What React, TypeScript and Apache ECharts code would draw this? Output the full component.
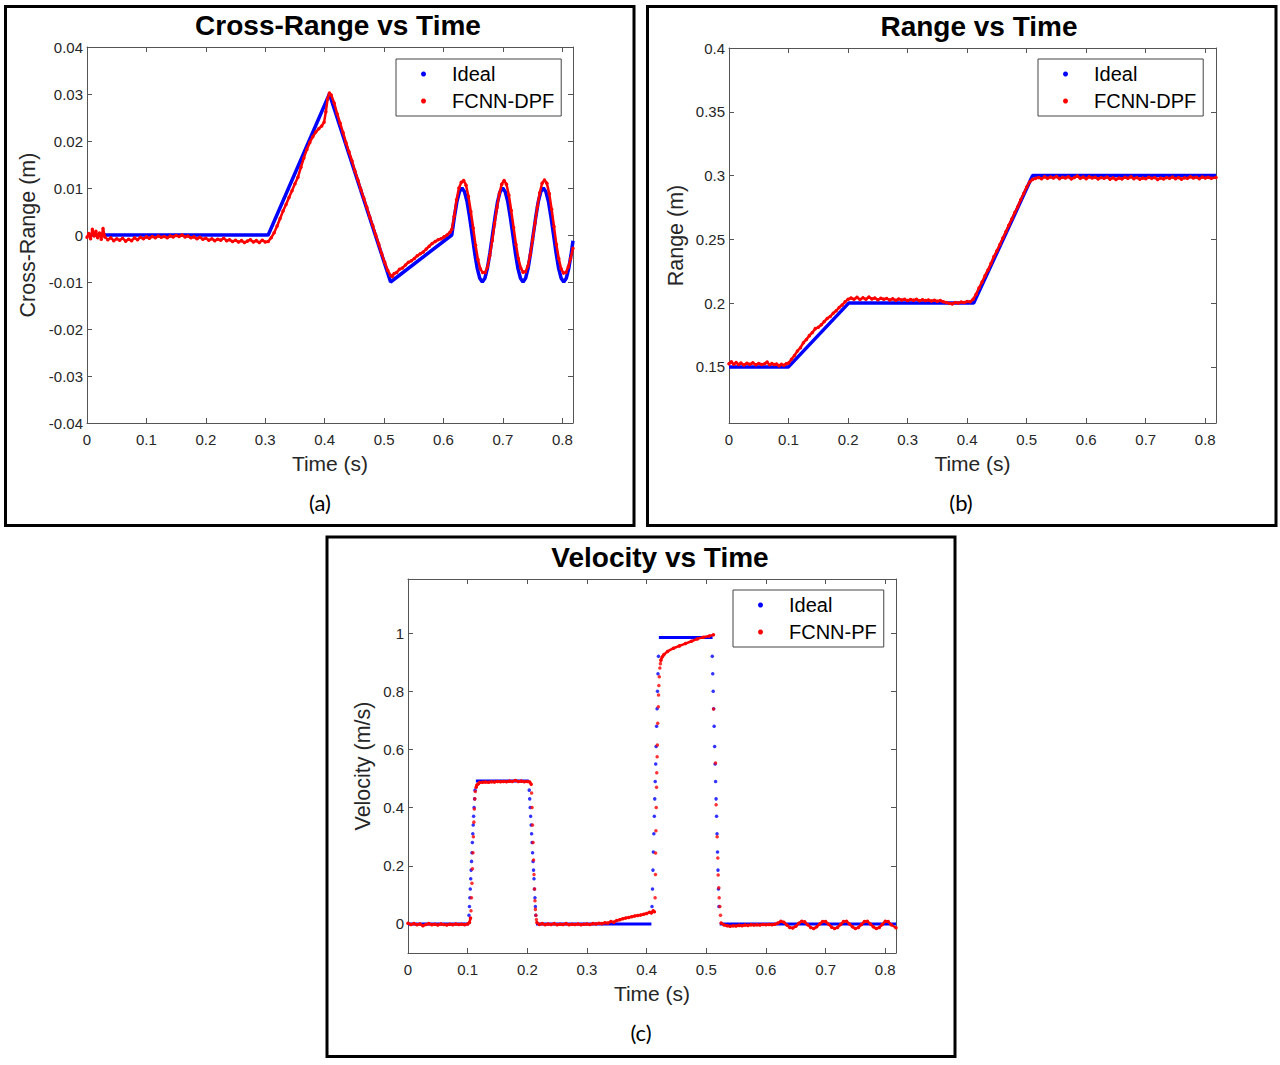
import React, { useEffect, useRef } from "react";
import * as echarts from "echarts";

type P = [number, number];

// ---------------- Panel (a): Cross-Range vs Time ----------------
const crossIdeal: P[] = [
  [0, 0], [0.305, 0], [0.408, 0.03], [0.511, -0.01], [0.614, 0],
  [0.6183, 0.0038], [0.6226, 0.0071], [0.6268, 0.0092], [0.6311, 0.01], [0.6354, 0.0092],
  [0.6397, 0.0071], [0.644, 0.0038], [0.6483, 0], [0.6525, -0.0038], [0.6568, -0.0071],
  [0.6611, -0.0092], [0.6654, -0.01], [0.6697, -0.0092], [0.6739, -0.0071], [0.6782, -0.0038],
  [0.6825, 0], [0.6868, 0.0038], [0.6911, 0.0071], [0.6953, 0.0092], [0.6996, 0.01],
  [0.7039, 0.0092], [0.7082, 0.0071], [0.7125, 0.0038], [0.7168, 0], [0.721, -0.0038],
  [0.7253, -0.0071], [0.7296, -0.0092], [0.7339, -0.01], [0.7382, -0.0092], [0.7424, -0.0071],
  [0.7467, -0.0038], [0.751, 0], [0.7553, 0.0038], [0.7596, 0.0071], [0.7638, 0.0092],
  [0.7681, 0.01], [0.7724, 0.0092], [0.7767, 0.0071], [0.781, 0.0038], [0.7853, 0],
  [0.7895, -0.0038], [0.7938, -0.0071], [0.7981, -0.0092], [0.8024, -0.01], [0.8067, -0.0092],
  [0.8109, -0.0071], [0.8152, -0.0038], [0.818, -0.0012],
];

const crossFcnn: P[] = [
  [0, -0.0005], [0.003, 0.0003], [0.006, -0.0008], [0.009, 0.0012], [0.012, -0.0002],
  [0.015, 0.0008], [0.018, -0.0006], [0.021, 0.0004], [0.024, -0.0009], [0.027, 0.0014],
  [0.03, -0.0004], [0.035, -0.001], [0.04, -0.0006], [0.045, -0.0012], [0.05, -0.0008],
  [0.055, -0.0011], [0.06, -0.0007], [0.065, -0.0013], [0.07, -0.0009], [0.075, -0.0012],
  [0.08, -0.0006], [0.085, -0.001], [0.09, -0.0005], [0.095, -0.0008], [0.1, -0.0004],
  [0.105, -0.0007], [0.11, -0.0003], [0.115, -0.0006], [0.12, -0.0002], [0.125, -0.0005],
  [0.13, -0.0003], [0.135, -0.0006], [0.14, -0.0002], [0.145, -0.0004], [0.15, -0.0001],
  [0.155, -0.0003], [0.16, 0.0], [0.165, -0.0004], [0.17, -0.0002], [0.175, -0.0006],
  [0.18, -0.0004], [0.185, -0.0008], [0.19, -0.0005], [0.195, -0.0009], [0.2, -0.0007],
  [0.205, -0.0011], [0.21, -0.0008], [0.215, -0.0012], [0.22, -0.0009], [0.225, -0.0011],
  [0.23, -0.0007], [0.235, -0.0012], [0.24, -0.001], [0.245, -0.0014], [0.25, -0.0011],
  [0.255, -0.0015], [0.26, -0.0012], [0.265, -0.0016], [0.27, -0.0013], [0.275, -0.001],
  [0.28, -0.0015], [0.285, -0.0012], [0.29, -0.0016], [0.295, -0.0011], [0.3, -0.0015],
  [0.305, -0.0014], [0.31, -0.0006], [0.315, 0.0005], [0.32, 0.0019], [0.325, 0.0035],
  [0.33, 0.0051], [0.335, 0.0065], [0.34, 0.008], [0.345, 0.0094], [0.35, 0.0109],
  [0.355, 0.0123], [0.36, 0.0144], [0.365, 0.0164], [0.37, 0.0182], [0.375, 0.0197],
  [0.38, 0.0209], [0.385, 0.0219], [0.39, 0.0226], [0.395, 0.0232], [0.399, 0.024],
  [0.402, 0.0262], [0.405, 0.029], [0.408, 0.0302], [0.411, 0.0298], [0.416, 0.0281],
  [0.421, 0.0258], [0.426, 0.0238], [0.431, 0.0218], [0.436, 0.0196], [0.441, 0.0177],
  [0.446, 0.0158], [0.451, 0.0136], [0.456, 0.0117], [0.461, 0.0097], [0.466, 0.0078],
  [0.471, 0.0059], [0.476, 0.0038], [0.481, 0.002], [0.486, 0.0], [0.491, -0.0019],
  [0.496, -0.004], [0.501, -0.0058], [0.506, -0.0075], [0.511, -0.0086], [0.514, -0.0088],
  [0.517, -0.0082], [0.521, -0.008], [0.526, -0.0073], [0.531, -0.007], [0.536, -0.0064],
  [0.541, -0.0058], [0.546, -0.0055], [0.551, -0.005], [0.556, -0.0044], [0.561, -0.004],
  [0.566, -0.0036], [0.571, -0.003], [0.576, -0.0024], [0.581, -0.0018], [0.586, -0.0014],
  [0.591, -0.001], [0.596, -0.0008], [0.601, -0.0004], [0.606, 0.0], [0.611, 0.0006],
  [0.614, 0.0012], [0.618, 0.004], [0.622, 0.0075], [0.626, 0.01], [0.63, 0.0112],
  [0.634, 0.0116], [0.638, 0.0106], [0.642, 0.0082], [0.646, 0.005], [0.65, 0.0015],
  [0.654, -0.0022], [0.658, -0.0052], [0.662, -0.0072], [0.666, -0.008], [0.67, -0.008],
  [0.674, -0.0068], [0.678, -0.0044], [0.682, -0.0012], [0.686, 0.0024], [0.69, 0.0058],
  [0.694, 0.0088], [0.698, 0.0108], [0.702, 0.0116], [0.706, 0.0108], [0.71, 0.0085],
  [0.714, 0.0052], [0.718, 0.0016], [0.722, -0.002], [0.726, -0.005], [0.73, -0.007],
  [0.734, -0.0079], [0.738, -0.0078], [0.742, -0.0066], [0.746, -0.0042], [0.75, -0.001],
  [0.754, 0.0025], [0.758, 0.006], [0.762, 0.009], [0.766, 0.011], [0.77, 0.0117],
  [0.774, 0.011], [0.778, 0.0088], [0.782, 0.0055], [0.786, 0.0018], [0.79, -0.002],
  [0.794, -0.005], [0.798, -0.0072], [0.802, -0.0081], [0.806, -0.008], [0.81, -0.0068],
  [0.814, -0.005], [0.818, -0.0028],
];

// ---------------- Panel (b): Range vs Time ----------------
const rangeIdeal: P[] = [
  [0, 0.15], [0.1, 0.15], [0.201, 0.2], [0.411, 0.2], [0.51, 0.3], [0.818, 0.3],
];

const rangeFcnn: P[] = [
  [0, 0.1525], [0.004, 0.154], [0.008, 0.152], [0.012, 0.1535], [0.016, 0.1518],
  [0.02, 0.153], [0.025, 0.1515], [0.03, 0.1528], [0.035, 0.152], [0.04, 0.1532],
  [0.045, 0.1517], [0.05, 0.1527], [0.055, 0.1519], [0.06, 0.1524], [0.064, 0.1538],
  [0.068, 0.1516], [0.072, 0.1526], [0.076, 0.1518], [0.08, 0.1522], [0.084, 0.1508],
  [0.088, 0.152], [0.092, 0.1512], [0.096, 0.1524], [0.1, 0.153], [0.105, 0.156],
  [0.11, 0.159], [0.115, 0.1625], [0.12, 0.165], [0.125, 0.169], [0.13, 0.1715],
  [0.135, 0.1745], [0.14, 0.177], [0.145, 0.18], [0.15, 0.181], [0.155, 0.183],
  [0.16, 0.1855], [0.165, 0.188], [0.17, 0.1895], [0.175, 0.192], [0.18, 0.194],
  [0.185, 0.1965], [0.19, 0.1985], [0.195, 0.201], [0.2, 0.203], [0.205, 0.204],
  [0.21, 0.203], [0.215, 0.2045], [0.22, 0.2028], [0.225, 0.2042], [0.23, 0.203],
  [0.235, 0.2048], [0.24, 0.2032], [0.245, 0.204], [0.25, 0.2026], [0.255, 0.2038],
  [0.26, 0.203], [0.265, 0.2036], [0.27, 0.2024], [0.275, 0.2034], [0.28, 0.2022],
  [0.285, 0.2032], [0.29, 0.2025], [0.295, 0.203], [0.3, 0.202], [0.305, 0.2028],
  [0.31, 0.2022], [0.315, 0.203], [0.32, 0.2018], [0.325, 0.2026], [0.33, 0.202],
  [0.335, 0.2024], [0.34, 0.2016], [0.345, 0.2022], [0.35, 0.2015], [0.355, 0.202],
  [0.36, 0.201], [0.365, 0.2005], [0.37, 0.1998], [0.375, 0.1994], [0.38, 0.2004],
  [0.385, 0.2], [0.39, 0.2008], [0.395, 0.2005], [0.4, 0.2012], [0.405, 0.201],
  [0.41, 0.203], [0.415, 0.207], [0.42, 0.212], [0.425, 0.2165], [0.43, 0.2215],
  [0.435, 0.226], [0.44, 0.231], [0.445, 0.2365], [0.45, 0.241], [0.455, 0.246],
  [0.46, 0.251], [0.465, 0.256], [0.47, 0.261], [0.475, 0.266], [0.48, 0.271],
  [0.485, 0.2755], [0.49, 0.281], [0.495, 0.286], [0.5, 0.291], [0.505, 0.295],
  [0.51, 0.297], [0.515, 0.2978], [0.52, 0.2985], [0.525, 0.2975], [0.53, 0.299],
  [0.535, 0.2978], [0.54, 0.2988], [0.545, 0.298], [0.55, 0.2992], [0.555, 0.2976],
  [0.56, 0.2986], [0.565, 0.298], [0.57, 0.299], [0.575, 0.2974], [0.58, 0.2984],
  [0.585, 0.2996], [0.59, 0.2978], [0.595, 0.2988], [0.6, 0.2976], [0.605, 0.299],
  [0.61, 0.298], [0.615, 0.2986], [0.62, 0.2974], [0.625, 0.2984], [0.63, 0.2978],
  [0.635, 0.2988], [0.64, 0.2972], [0.645, 0.2982], [0.65, 0.297], [0.655, 0.298],
  [0.66, 0.2974], [0.665, 0.2986], [0.67, 0.2978], [0.675, 0.299], [0.68, 0.2976],
  [0.685, 0.2984], [0.69, 0.2972], [0.695, 0.298], [0.7, 0.2976], [0.705, 0.2986],
  [0.71, 0.2978], [0.715, 0.2984], [0.72, 0.297], [0.725, 0.298], [0.73, 0.2974],
  [0.735, 0.2984], [0.74, 0.2978], [0.745, 0.2988], [0.75, 0.2976], [0.755, 0.2984],
  [0.76, 0.2972], [0.765, 0.2982], [0.77, 0.2978], [0.775, 0.299], [0.78, 0.298],
  [0.785, 0.2986], [0.79, 0.2976], [0.795, 0.2988], [0.8, 0.298], [0.805, 0.2986],
  [0.81, 0.2978], [0.818, 0.2984],
];

// ---------------- Panel (c): Velocity vs Time ----------------
const velIdealSegments: P[][] = [
  [[0, 0], [0.102, 0]],
  [[0.1138, 0.491], [0.2025, 0.491]],
  [[0.2145, 0], [0.408, 0]],
  [[0.4205, 0.985], [0.5105, 0.985]],
  [[0.5225, 0], [0.818, 0]],
];

const velIdealDots: P[] = [
  [0.1022, 0.03], [0.103, 0.06], [0.1037, 0.09], [0.1044, 0.12], [0.1051, 0.155],
  [0.1058, 0.185], [0.1065, 0.215], [0.1072, 0.245], [0.1079, 0.28], [0.1086, 0.31],
  [0.1093, 0.34], [0.11, 0.37], [0.1108, 0.4], [0.1116, 0.43], [0.1124, 0.46],
  [0.2032, 0.46], [0.204, 0.43], [0.2048, 0.4], [0.2056, 0.37], [0.2064, 0.34],
  [0.2072, 0.31], [0.208, 0.28], [0.2088, 0.245], [0.2096, 0.215], [0.2104, 0.185],
  [0.2112, 0.155], [0.212, 0.12], [0.2128, 0.09], [0.2135, 0.06], [0.2142, 0.03],
  [0.409, 0.06], [0.4098, 0.12], [0.4106, 0.185], [0.4113, 0.247], [0.4121, 0.31],
  [0.4129, 0.37], [0.4136, 0.43], [0.4144, 0.49], [0.4152, 0.55], [0.4159, 0.61],
  [0.4167, 0.68], [0.4175, 0.74], [0.4182, 0.8], [0.419, 0.86], [0.4198, 0.92],
  [0.51, 0.92], [0.5108, 0.86], [0.5116, 0.8], [0.5124, 0.74], [0.5132, 0.68],
  [0.514, 0.61], [0.5148, 0.55], [0.5156, 0.49], [0.5164, 0.43], [0.5172, 0.37],
  [0.518, 0.31], [0.5188, 0.247], [0.5196, 0.185], [0.5204, 0.12], [0.5212, 0.06],
];

const velFcnnSegments: P[][] = [
  [
    [0, 0.002], [0.005, -0.002], [0.01, 0.001], [0.015, -0.003], [0.02, 0.0],
    [0.025, -0.006], [0.03, -0.002], [0.035, 0.001], [0.04, -0.003], [0.045, -0.001],
    [0.05, -0.004], [0.055, 0.0], [0.06, -0.002], [0.065, -0.004], [0.07, -0.001],
    [0.075, -0.003], [0.08, 0.0], [0.085, -0.002], [0.09, -0.001], [0.095, -0.003],
    [0.1, 0.0], [0.103, 0.005], [0.1048, 0.02],
  ],
  [
    [0.1142, 0.47], [0.1155, 0.478], [0.118, 0.482], [0.12, 0.486], [0.125, 0.487],
    [0.13, 0.488], [0.135, 0.487], [0.14, 0.489], [0.145, 0.488], [0.15, 0.49],
    [0.155, 0.489], [0.16, 0.49], [0.165, 0.489], [0.17, 0.491], [0.175, 0.49],
    [0.18, 0.493], [0.185, 0.49], [0.19, 0.491], [0.195, 0.489], [0.2, 0.49],
    [0.204, 0.488], [0.2065, 0.48],
  ],
  [
    [0.216, 0.005], [0.22, -0.002], [0.225, 0.001], [0.23, -0.003], [0.235, 0.0],
    [0.24, -0.002], [0.245, 0.001], [0.25, -0.003], [0.255, -0.001], [0.26, -0.002],
    [0.265, 0.001], [0.27, -0.003], [0.275, -0.001], [0.28, -0.002], [0.285, 0.0],
    [0.29, -0.003], [0.295, -0.001], [0.3, 0.0], [0.305, -0.002], [0.31, 0.001],
    [0.315, 0.0], [0.32, 0.002], [0.325, 0.001], [0.33, 0.004], [0.335, 0.003],
    [0.34, 0.008], [0.345, 0.006], [0.35, 0.012], [0.355, 0.014], [0.36, 0.018],
    [0.365, 0.02], [0.37, 0.022], [0.375, 0.025], [0.38, 0.027], [0.385, 0.029],
    [0.39, 0.031], [0.395, 0.033], [0.4, 0.036], [0.405, 0.04], [0.408, 0.038],
    [0.411, 0.045], [0.413, 0.042],
  ],
  [
    [0.4239, 0.907], [0.426, 0.918], [0.429, 0.926], [0.435, 0.937], [0.445, 0.948],
    [0.455, 0.956], [0.465, 0.964], [0.475, 0.972], [0.485, 0.98], [0.495, 0.986],
    [0.505, 0.99], [0.512, 0.994],
  ],
  [
    [0.5249, 0.003], [0.53, -0.004], [0.535, -0.006], [0.54, -0.008], [0.545, -0.006],
    [0.55, -0.007], [0.555, -0.005], [0.56, -0.006], [0.565, -0.004], [0.57, -0.005],
    [0.575, -0.003], [0.58, -0.004], [0.585, -0.003], [0.59, -0.004], [0.595, -0.002],
    [0.6, -0.003], [0.605, -0.002], [0.61, -0.003], [0.615, -0.001], [0.62, 0.003],
    [0.625, 0.009], [0.63, 0.006], [0.635, -0.004], [0.64, -0.012], [0.645, -0.014],
    [0.65, -0.008], [0.655, 0.002], [0.66, 0.009], [0.665, 0.007], [0.67, -0.003],
    [0.675, -0.012], [0.68, -0.016], [0.685, -0.01], [0.69, 0.0], [0.695, 0.008],
    [0.7, 0.008], [0.705, -0.001], [0.71, -0.011], [0.715, -0.016], [0.72, -0.012],
    [0.725, -0.002], [0.73, 0.008], [0.735, 0.009], [0.74, 0.0], [0.745, -0.01],
    [0.75, -0.016], [0.755, -0.012], [0.76, -0.002], [0.765, 0.008], [0.77, 0.009],
    [0.775, 0.0], [0.78, -0.01], [0.785, -0.016], [0.79, -0.012], [0.795, -0.002],
    [0.8, 0.009], [0.805, 0.008], [0.81, -0.003], [0.818, -0.013],
  ],
];

const velFcnnDots: P[] = [
  [0.1056, 0.045], [0.1064, 0.09], [0.1072, 0.14], [0.108, 0.19], [0.1088, 0.245],
  [0.1096, 0.3], [0.1104, 0.35], [0.1112, 0.395], [0.112, 0.43], [0.1128, 0.455],
  [0.2072, 0.45], [0.208, 0.4], [0.2088, 0.34], [0.2096, 0.28], [0.2104, 0.22],
  [0.2112, 0.17], [0.212, 0.12], [0.2128, 0.08], [0.2136, 0.05], [0.2144, 0.03],
  [0.2152, 0.015],
  [0.4142, 0.09], [0.4148, 0.17], [0.415, 0.244], [0.4156, 0.32], [0.4161, 0.4],
  [0.4166, 0.47], [0.417, 0.52], [0.4176, 0.575], [0.418, 0.615], [0.4186, 0.69],
  [0.4196, 0.747], [0.42, 0.787], [0.4205, 0.82], [0.4212, 0.85], [0.4222, 0.88],
  [0.4231, 0.895],
  [0.5121, 0.739], [0.5154, 0.553], [0.5165, 0.41], [0.5182, 0.3], [0.5193, 0.227],
  [0.5199, 0.168], [0.521, 0.124], [0.5216, 0.09], [0.5227, 0.06], [0.5238, 0.03],
];

// ---------------- Axis ranges and tick steps ----------------
const TIME_MAX = 0.818;
const TIME_STEP = 0.1;
const CROSS_RANGE = [-0.04, 0.04];
const CROSS_STEP = 0.01;
const RANGE_RANGE = [0.106, 0.4];
const RANGE_STEP = 0.05;
const VEL_RANGE = [-0.1, 1.186];
const VEL_STEP = 0.2;

const FONT = "'Liberation Sans', Arial, Helvetica, sans-serif";
const BLUE = "#0000ff";
const RED = "#ff0000";
const AXIS_COLOR = "#555555";
const LABEL_COLOR = "#262626";

function fmt(v: number, step: number, dec: number): string {
  const k = v / step;
  if (Math.abs(k - Math.round(k)) > 1e-6) return "";
  return String(+v.toFixed(dec));
}

function xAxisPair(gridIndex: number) {
  const common = {
    type: "value",
    gridIndex,
    min: 0,
    max: TIME_MAX,
    interval: TIME_STEP,
    axisLine: { show: true, onZero: false, lineStyle: { color: AXIS_COLOR, width: 1 } },
    axisTick: { show: true, inside: true, length: 5, lineStyle: { color: AXIS_COLOR } },
    splitLine: { show: false },
  };
  return [
    {
      ...common,
      position: "bottom",
      name: "Time (s)",
      nameLocation: "middle",
      nameGap: 30,
      nameTextStyle: { fontSize: 21, color: LABEL_COLOR, fontFamily: FONT },
      axisLabel: {
        show: true,
        margin: 9,
        fontSize: 15,
        color: LABEL_COLOR,
        fontFamily: FONT,
        formatter: (v: number) => fmt(v, TIME_STEP, 1),
      },
    },
    { ...common, position: "top", axisLabel: { show: false } },
  ];
}

function yAxisPair(gridIndex: number, range: number[], step: number, name: string, nameGap: number, exactInterval: boolean) {
  const common: any = {
    type: "value",
    gridIndex,
    min: range[0],
    max: range[1],
    axisLine: { show: true, onZero: false, lineStyle: { color: AXIS_COLOR, width: 1 } },
    axisTick: { show: true, inside: true, length: 5, lineStyle: { color: AXIS_COLOR } },
    splitLine: { show: false },
  };
  if (exactInterval) common.interval = step;
  else {
    common.minInterval = step;
    common.maxInterval = step;
    common.splitNumber = 6;
  }
  return [
    {
      ...common,
      position: "left",
      name,
      nameLocation: "middle",
      nameGap,
      nameTextStyle: { fontSize: 21.5, color: LABEL_COLOR, fontFamily: FONT },
      axisLabel: {
        show: true,
        margin: 4,
        fontSize: 15,
        color: LABEL_COLOR,
        fontFamily: FONT,
        formatter: (v: number) => fmt(v, step, 2),
      },
    },
    { ...common, position: "right", axisLabel: { show: false } },
  ];
}

function legendAt(left: number, top: number, names: string[]) {
  return {
    show: true,
    left,
    top,
    orient: "vertical",
    data: names.map((n) => ({ name: n, icon: "circle" })),
    itemWidth: 5,
    itemHeight: 5,
    itemGap: 7,
    padding: [5, 7, 5, 25],
    borderColor: "#444444",
    borderWidth: 1,
    backgroundColor: "#ffffff",
    selectedMode: false,
    textStyle: { fontSize: 20, fontFamily: FONT, color: "#000", lineHeight: 20, padding: [0, 0, 0, 21] },
  };
}

function lineSeries(name: string, data: P[], color: string, width: number, axis: number, z: number, dots: boolean) {
  return {
    type: "line",
    name,
    data,
    xAxisIndex: axis,
    yAxisIndex: axis,
    symbol: "circle",
    symbolSize: 3.5,
    showSymbol: dots,
    showAllSymbol: true,
    lineStyle: { color, width },
    itemStyle: { color },
    silent: true,
    z,
  };
}

function dotSeries(name: string, data: P[], color: string, axis: number, z: number) {
  return {
    type: "scatter",
    name,
    data,
    xAxisIndex: axis,
    yAxisIndex: axis,
    symbol: "circle",
    symbolSize: 3.5,
    itemStyle: { color },
    silent: true,
    z,
  };
}

function textEl(text: string, x: number, y: number, font: string) {
  return {
    type: "text",
    silent: true,
    style: { text, x, y, font, fill: "#000", align: "center", verticalAlign: "middle", textAlign: "center", textVerticalAlign: "middle" },
  };
}

function borderEl(x: number, y: number, w: number, h: number) {
  return {
    type: "rect",
    silent: true,
    shape: { x, y, width: w, height: h },
    style: { fill: "none", stroke: "#000", lineWidth: 3 },
  };
}

export default function App() {
  const ref = useRef<HTMLDivElement>(null);
  useEffect(() => {
    if (!ref.current) return;
    const chart = echarts.init(ref.current, undefined, { renderer: "svg" });
    const TITLE_FONT = `bold 28px ${FONT}`;
    const SUB_FONT = "22px Lato, 'Open Sans', sans-serif";
    const option: any = {
      animation: false,
      backgroundColor: "#ffffff",
      grid: [
        { left: 87, top: 47, width: 486, height: 376 },
        { left: 729, top: 48, width: 487, height: 375 },
        { left: 408, top: 579, width: 488, height: 374 },
      ],
      xAxis: [...xAxisPair(0), ...xAxisPair(1), ...xAxisPair(2)],
      yAxis: [
        ...yAxisPair(0, CROSS_RANGE, CROSS_STEP, "Cross-Range (m)", 48, true),
        ...yAxisPair(1, RANGE_RANGE, RANGE_STEP, "Range (m)", 42, false),
        ...yAxisPair(2, VEL_RANGE, VEL_STEP, "Velocity (m/s)", 34, false),
      ],
      legend: [
        legendAt(396, 59, ["Ideal", "FCNN-DPF"]),
        legendAt(1038, 59, ["Ideal", "FCNN-DPF"]),
        legendAt(733, 590, ["Ideal", "FCNN-PF"]),
      ],
      series: [
        lineSeries("Ideal", crossIdeal, BLUE, 3.5, 0, 2, false),
        lineSeries("FCNN-DPF", crossFcnn, RED, 2.5, 0, 3, true),
        lineSeries("Ideal", rangeIdeal, BLUE, 3.5, 2, 2, false),
        lineSeries("FCNN-DPF", rangeFcnn, RED, 2.5, 2, 3, true),
        ...velIdealSegments.map((seg) => lineSeries("Ideal", seg, BLUE, 3, 4, 2, false)),
        dotSeries("Ideal", velIdealDots, BLUE, 4, 2),
        ...velFcnnSegments.map((seg) => lineSeries("FCNN-PF", seg, RED, 2.5, 4, 3, true)),
        dotSeries("FCNN-PF", velFcnnDots, RED, 4, 3),
      ],
      graphic: [
        borderEl(5.5, 6.5, 628.5, 519),
        borderEl(647.5, 6.5, 628.5, 519),
        borderEl(327, 537, 628, 519.5),
        textEl("Cross-Range vs Time", 338, 25, TITLE_FONT),
        textEl("Range vs Time", 979, 26, TITLE_FONT),
        textEl("Velocity vs Time", 660, 557, TITLE_FONT),
        textEl("(a)", 320, 502, SUB_FONT),
        textEl("(b)", 961, 502, SUB_FONT),
        textEl("(c)", 641, 1032, SUB_FONT),
      ],
    };
    chart.setOption(option);
    return () => chart.dispose();
  }, []);
  return (
    <div
      ref={ref}
      style={{ position: "absolute", left: 0, top: 0, width: 1280, height: 1065, background: "#fff" }}
    />
  );
}
